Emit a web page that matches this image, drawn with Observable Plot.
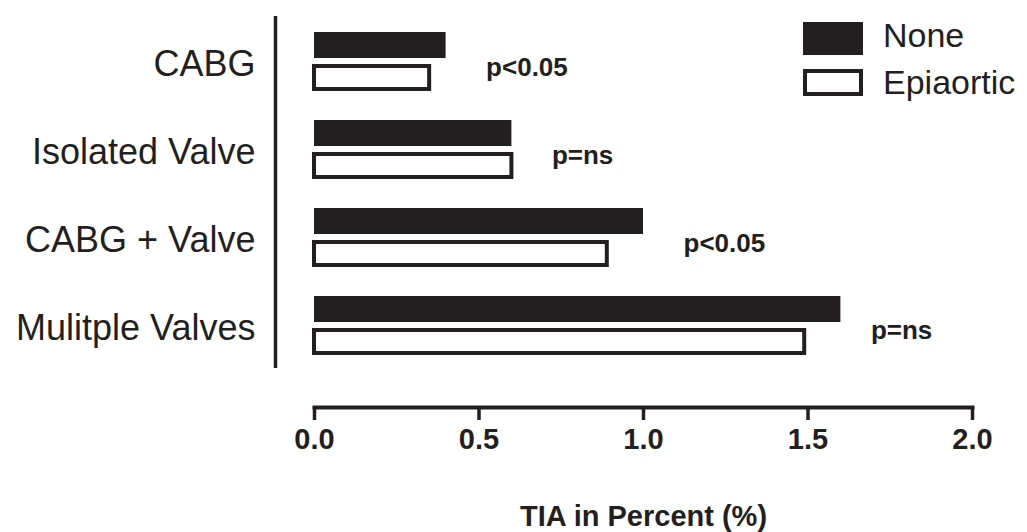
<!DOCTYPE html>
<html>
<head>
<meta charset="utf-8">
<script src="https://cdn.jsdelivr.net/npm/d3@7"></script>
<script src="https://cdn.jsdelivr.net/npm/@observablehq/plot@0.6"></script>
<style>
  html, body { margin: 0; padding: 0; background: #fff; }
  #wrap { position: relative; width: 1027px; height: 532px; font-family: "Liberation Sans", Arial, sans-serif; color: #231f20; }
  #chart svg { display: block; }
  .sw { position: absolute; box-sizing: border-box; }
  .lt { position: absolute; font-size: 34px; line-height: 1; white-space: nowrap; }
</style>
</head>
<body>
<div id="wrap">
  <div id="chart"></div>
  <div id="legend"></div>
</div>
<script>
const categories = ["CABG", "Isolated Valve", "CABG + Valve", "Mulitple Valves"];
const noneValues = [0.40, 0.60, 1.00, 1.60];
const epiaorticValues = [0.35, 0.60, 0.89, 1.49];
const pLabels = ["p<0.05", "p=ns", "p<0.05", "p=ns"];
const seriesNames = ["None", "Epiaortic"];
const xTicks = [0, 0.5, 1, 1.5, 2];
const xLabel = "TIA in Percent (%)";

const ink = "#231f20";
const rows = categories.map((c, i) => ({
  category: c, none: noneValues[i], epi: epiaorticValues[i], p: pLabels[i],
  top: Math.max(noneValues[i], epiaorticValues[i]), last: i === categories.length - 1
}));

const chart = Plot.plot({
  width: 1027,
  height: 532,
  marginLeft: 314,
  marginRight: 55,
  marginTop: 14,
  marginBottom: 125,
  style: { fontFamily: '"Liberation Sans", Arial, sans-serif', color: ink, background: "#fff" },
  x: { domain: [0, 2] },
  y: { domain: categories, range: [15, 369], padding: 0 },
  marks: [
    Plot.tickX(rows, { x: () => 0, y: "category", dx: -39, stroke: ink, strokeWidth: 3.5 }),
    Plot.barX(rows, { x: "none", y: "category", fill: ink, insetTop: 16, insetBottom: 46 }),
    Plot.barX(rows, { x: "epi", y: "category", fill: "#fff", stroke: ink, strokeWidth: 4, insetTop: 50, insetBottom: 15 }),
    Plot.text(rows.filter(d => !d.last), { x: "top", y: "category", text: "p", dx: 40, dy: 7, textAnchor: "start", fontSize: 26, fontWeight: "bold", fill: ink }),
    Plot.text(rows.filter(d => d.last), { x: "top", y: "category", text: "p", dx: 30, dy: 6, textAnchor: "start", fontSize: 26, fontWeight: "bold", fill: ink }),
    Plot.axisY({ tickSize: 0, tickPadding: 59, fontSize: 36, dy: 4, label: null, fill: ink }),
    Plot.frame({ anchor: "bottom", stroke: ink, strokeWidth: 4 }),
    Plot.axisX({
      ticks: xTicks, tickFormat: d3.format(".1f"), tickSize: 13, tickPadding: 8,
      stroke: ink, strokeWidth: 3.5, fontSize: 29, fontWeight: "bold", fill: ink,
      label: xLabel, labelAnchor: "center", labelOffset: 118, labelArrow: "none"
    })
  ]
});
document.getElementById("chart").appendChild(chart);

// legend
const legend = document.getElementById("legend");
const items = [
  { name: seriesNames[0], sw: { left: 803, top: 22, width: 60, height: 33, background: ink } },
  { name: seriesNames[1], sw: { left: 803, top: 69, width: 60, height: 27, background: "#fff", border: "4px solid " + ink } }
];
const textTops = [18, 65];
items.forEach((it, i) => {
  const s = document.createElement("div");
  s.className = "sw";
  Object.entries(it.sw).forEach(([k, v]) => s.style[k] = typeof v === "number" ? v + "px" : v);
  legend.appendChild(s);
  const t = document.createElement("div");
  t.className = "lt";
  t.style.left = "883px";
  t.style.top = textTops[i] + "px";
  t.textContent = it.name;
  legend.appendChild(t);
});
</script>
</body>
</html>
